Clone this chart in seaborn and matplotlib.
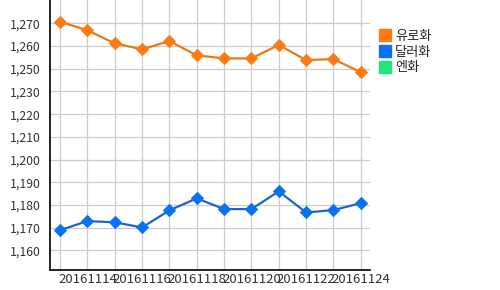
import matplotlib
matplotlib.use("Agg")
import matplotlib.pyplot as plt
import seaborn as sns
import pandas as pd
from matplotlib.lines import Line2D

dates = ["20161113", "20161114", "20161115", "20161116", "20161117", "20161118",
         "20161119", "20161120", "20161121", "20161122", "20161123", "20161124"]
eur = [1270.8, 1266.6, 1260.3, 1257.4, 1261.4, 1254.5, 1253.0, 1253.0, 1259.5, 1252.2, 1252.7, 1246.3]
usd = [1169.8, 1174.2, 1173.6, 1171.1, 1179.4, 1185.2, 1180.0, 1180.0, 1188.6, 1178.4, 1179.5, 1182.9]
series_names = ["유로화", "달러화", "엔화"]
y_ticks = [1160, 1171, 1182, 1193, 1204, 1215, 1226, 1237, 1248, 1259, 1270]
y_labels = ["1,160", "1,170", "1,180", "1,190", "1,200", "1,210", "1,220", "1,230", "1,250", "1,260", "1,270"]
x_label_dates = ["20161114", "20161116", "20161118", "20161120", "20161122", "20161124"]

sns.set_theme(style="white")
plt.rcParams['font.family'] = ['Noto Sans CJK KR', 'DejaVu Sans']

fig = plt.figure(figsize=(5, 2.9), dpi=100)
ax = fig.add_axes([0.10, 0.069, 0.64, 0.931])

df = pd.DataFrame({"x": list(range(len(dates))), "eur": eur, "usd": usd})

line_cols = {"유로화": "#E57A1C", "달러화": "#1F66C4", "엔화": "#1EE878"}
mark_cols = {"유로화": "#FF7A12", "달러화": "#0A72F0", "엔화": "#1EE878"}

sns.lineplot(data=df, x="x", y="eur", ax=ax, color=line_cols["유로화"], lw=1.6,
             marker="D", markersize=5.8, markerfacecolor=mark_cols["유로화"],
             markeredgecolor=mark_cols["유로화"], zorder=3)
sns.lineplot(data=df, x="x", y="usd", ax=ax, color=line_cols["달러화"], lw=1.6,
             marker="D", markersize=5.8, markerfacecolor=mark_cols["달러화"],
             markeredgecolor=mark_cols["달러화"], zorder=3)

ax.set_xlim(-0.37, 11.34)
ax.set_ylim(1150.5, 1281.3)
ax.set_xticks(range(len(dates)))
ax.set_xticklabels([d if d in x_label_dates else "" for d in dates], fontsize=9.5, color="#333333")
ax.set_yticks(y_ticks)
ax.set_yticklabels(y_labels, fontsize=8.8, color="#333333")
ax.tick_params(axis="both", length=0)
ax.tick_params(axis="y", pad=7)
ax.tick_params(axis="x", pad=2)
ax.set_xlabel("")
ax.set_ylabel("")
ax.grid(True, color="#cccccc", lw=0.9)
for s in ["top", "right"]:
    ax.spines[s].set_visible(False)
for s in ["left", "bottom"]:
    ax.spines[s].set_color("black")
    ax.spines[s].set_linewidth(1.2)

handles = [Line2D([], [], ls="none", marker="s", markersize=8, color=mark_cols[n]) for n in series_names]
fig.legend(handles, series_names, loc="upper left", bbox_to_anchor=(0.748, 0.915),
           frameon=False, fontsize=9.5, handlelength=0.8, handletextpad=0.4,
           labelspacing=0.2, borderaxespad=0)

fig.savefig("out.png", dpi=100)
